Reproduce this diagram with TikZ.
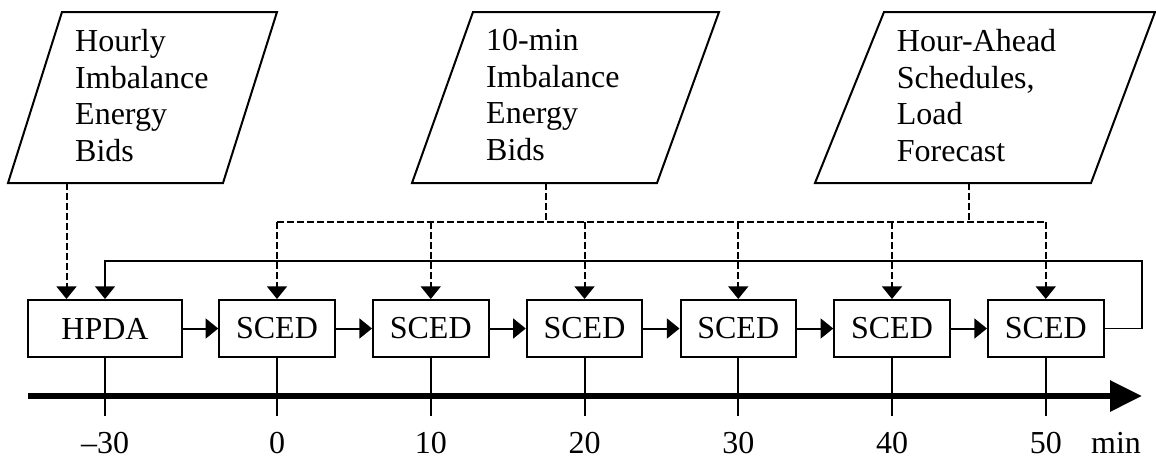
\documentclass[tikz,border=0pt]{standalone}
\usepackage{fontspec}
\setmainfont{Liberation Serif}
\usetikzlibrary{arrows.meta}
\begin{document}
\begin{tikzpicture}[x=1pt,y=-1pt,
  ln/.style={line width=2pt},
  box/.style={draw, ln, minimum height=57pt, inner sep=0pt, font=\fontsize{32}{36.7}\selectfont},
  para/.style={draw, ln, line join=miter},
  ptext/.style={align=left, inner sep=0pt, anchor=north west, font=\fontsize{32}{36.7}\selectfont},
  lbl/.style={anchor=base, inner sep=0pt, font=\fontsize{32}{36.7}\selectfont},
  tip/.style={-{Triangle[length=12.7pt,width=20pt]}},
  dsh/.style={ln, dash pattern=on 6.5pt off 3.5pt},
  fb/.style={line width=1.6pt}]
\useasboundingbox (0,0) rectangle (1156,475);

% input parallelograms
\draw[para] (62,12) -- (277,12) -- (223,183) -- (8,183) -- cycle;
\draw[para] (473,12) -- (719,12) -- (657,183) -- (412,183) -- cycle;
\draw[para] (884,12) -- (1155,12) -- (1091,183) -- (815,183) -- cycle;
\node[ptext] (t1) at (75,29) {Hourly\\Imbalance\\Energy\\Bids};
\node[ptext] (t2) at (486,29) {10-min\\Imbalance\\Energy\\Bids};
\node[ptext] (t3) at (896.7,29) {Hour-Ahead\\Schedules,\\Load\\Forecast};
\coordinate (p1) at (66.5,183);
\coordinate (p2) at (546,183);
\coordinate (p3) at (969,183);

% boxes
\node[box, minimum width=154pt] (hpda) at (105,328.5) {HPDA};
\foreach \i/\x in {1/277,2/430.75,3/584.5,4/738.25,5/892,6/1045.75}
  \node[box, minimum width=115.5pt] (s\i) at (\x,328.5) {SCED};

% bus
\coordinate (busL) at (277,222);
\coordinate (busR) at (1045.75,222);
\draw[dsh] (busL) -- (busR);
\draw[dsh] (p2) -- (p2 |- busL);
\draw[dsh] (p3) -- (p3 |- busL);
\foreach \i in {1,...,6}
  \draw[dsh, tip] (s\i.north |- busL) -- (s\i.north);
\draw[dsh, tip] (p1) -- (p1 |- hpda.north);

% chain arrows
\draw[ln, tip] (hpda.east) -- (s1.west);
\foreach \i [evaluate=\i as \j using int(\i+1)] in {1,...,5}
  \draw[ln, tip] (s\i.east) -- (s\j.west);

% feedback
\coordinate (fbR) at (1142,261);
\draw[fb, tip] (s6.east) -| (fbR) -| (hpda.north);

% timeline
\coordinate (t0) at (28,396);
\coordinate (tE) at (1142,396);
\draw[line width=6pt, -{Triangle[length=32pt,width=30pt]}] (t0) -- (tE);
\foreach \n in {hpda,s1,s2,s3,s4,s5,s6}
  \draw[ln] (\n.south) -- ++(0,58);

% labels
\node[lbl] (l0) at (105,453.3) {–30};
\node[lbl] (l1) at (277,453.3) {0};
\node[lbl] (l2) at (430.75,453.3) {10};
\node[lbl] (l3) at (584.5,453.3) {20};
\node[lbl] (l4) at (738.25,453.3) {30};
\node[lbl] (l5) at (892,453.3) {40};
\node[lbl] (l6) at (1045.75,453.3) {50};
\node[lbl] (lm) at (1116,453.3) {min};
\end{tikzpicture}
\end{document}
